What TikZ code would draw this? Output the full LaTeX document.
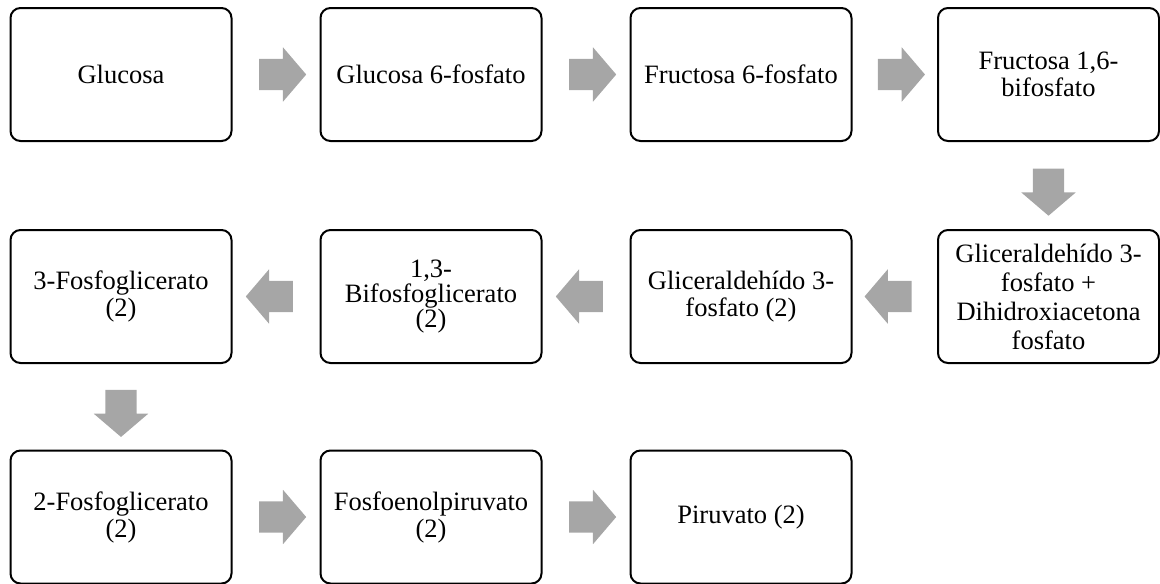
\documentclass[tikz,border=0pt]{standalone}
\usepackage{fontspec}
\setmainfont{Liberation Serif}
\usetikzlibrary{shapes.arrows,calc}
\definecolor{arrowgray}{HTML}{A6A6A6}
\tikzset{
  box/.style={draw=black, line width=2pt, rounded corners=10pt,
    minimum width=221pt, minimum height=133pt, align=center, inner sep=0pt,
    font=\fontsize{26.5}{27}\selectfont},
  blockarrow/.style={single arrow, fill=arrowgray, draw=none,
    minimum height=47pt, inner xsep=0pt, inner ysep=15.5pt,
    single arrow head extend=11.5pt, single arrow tip angle=99},
  toleft/.style={blockarrow, shape border rotate=180},
  todown/.style={blockarrow, rotate=-90}
}
\begin{document}
\begin{tikzpicture}[x=1pt,y=-1pt]
\path[use as bounding box] (0,0) rectangle (1160,584);
% row 1
\node[box] (glc) at (121,74.5) {Glucosa};
\node[box] (g6p) at (431,74.5) {Glucosa 6-fosfato};
\node[box] (f6p) at (741,74.5) {Fructosa 6-fosfato};
\node[box] (f16) at (1048.5,74.5) {Fructosa 1,6-\\bifosfato};
% row 2
\node[box, font=\fontsize{26.5}{29}\selectfont] (gap) at (1048.5,296.5) {Gliceraldehído 3-\\fosfato +\\Dihidroxiacetona\\fosfato};
\node[box] (gap2) at (741,296.5) {Gliceraldehído 3-\\fosfato (2)};
\node[box, font=\fontsize{26.5}{25}\selectfont] (bpg) at (431,296.5) {1,3-\\Bifosfoglicerato\\(2)};
\node[box] (pg3) at (121,296.5) {3-Fosfoglicerato\\(2)};
% row 3
\node[box] (pg2) at (121,517) {2-Fosfoglicerato\\(2)};
\node[box] (pep) at (431,517) {Fosfoenolpiruvato\\(2)};
\node[box] (pyr) at (741,517) {Piruvato (2)};
% arrows
\node[blockarrow] (a1) at ($(glc.east)!0.5!(g6p.west)$) {};
\node[blockarrow] (a2) at ($(g6p.east)!0.5!(f6p.west)$) {};
\node[blockarrow] (a3) at ($(f6p.east)!0.5!(f16.west)$) {};
\node[todown] (a4) at ($(f16.south)!0.5!(gap.north)$) {};
\node[toleft] (a5) at ($(gap.west)!0.5!(gap2.east)$) {};
\node[toleft] (a6) at ($(gap2.west)!0.5!(bpg.east)$) {};
\node[toleft] (a7) at ($(bpg.west)!0.5!(pg3.east)$) {};
\node[todown] (a8) at ($(pg3.south)!0.5!(pg2.north)$) {};
\node[blockarrow] (a9) at ($(pg2.east)!0.5!(pep.west)$) {};
\node[blockarrow] (a10) at ($(pep.east)!0.5!(pyr.west)$) {};
\end{tikzpicture}
\end{document}
